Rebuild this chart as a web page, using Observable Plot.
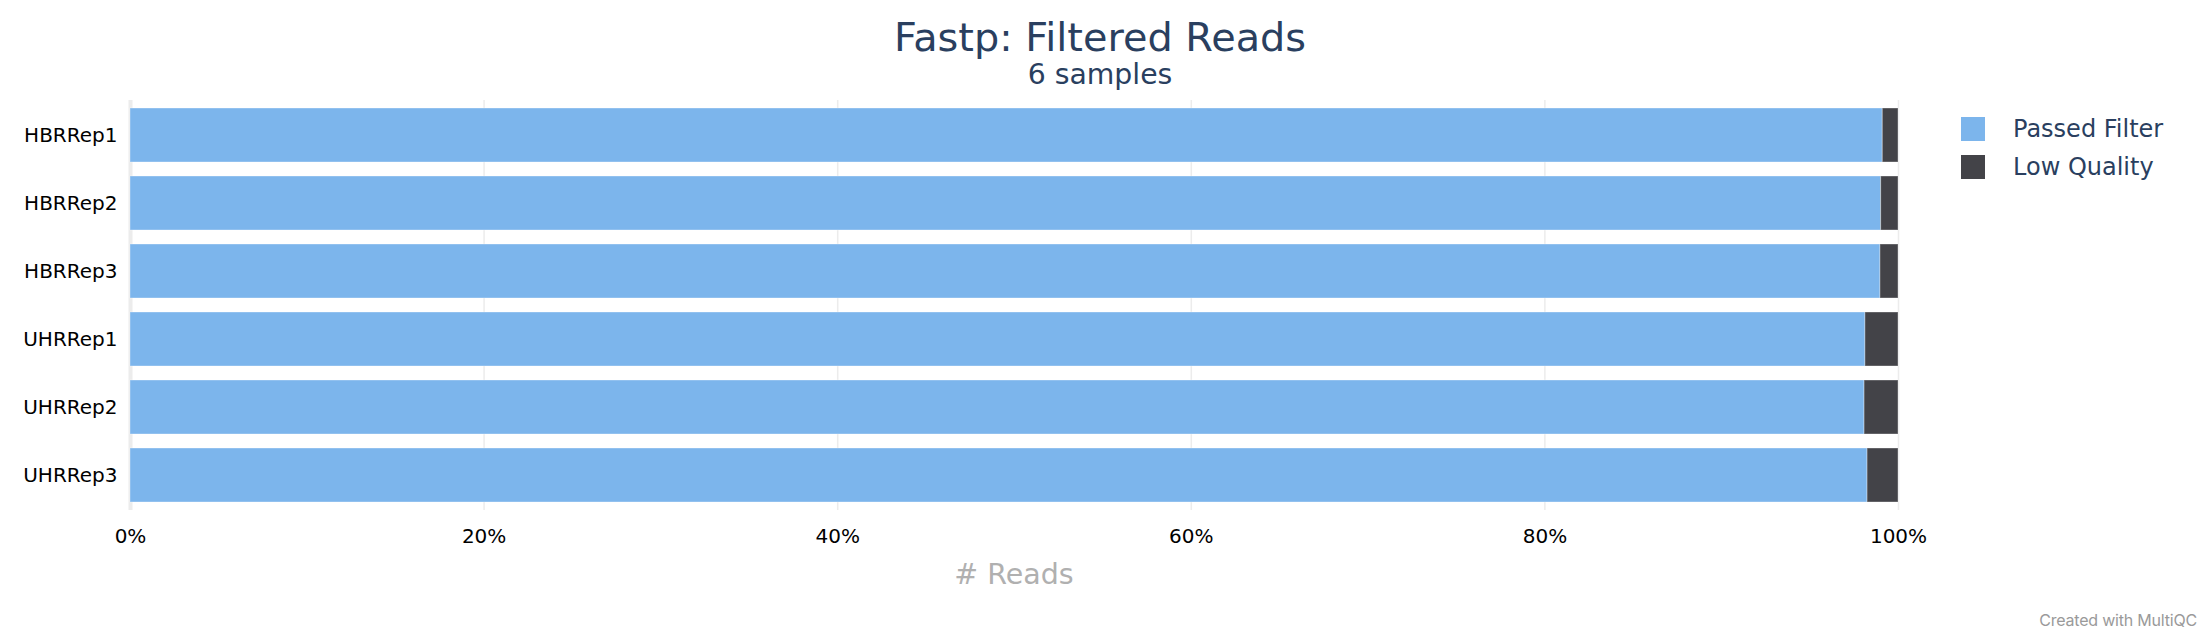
<!DOCTYPE html>
<html>
<head>
<meta charset="utf-8">
<script src="https://cdn.jsdelivr.net/npm/d3@7"></script>
<script src="https://cdn.jsdelivr.net/npm/@observablehq/plot@0.6"></script>
<style>
  html, body { margin: 0; padding: 0; background: #fff; }
  #wrap { position: relative; width: 2200px; height: 640px; font-family: "DejaVu Sans", sans-serif; overflow: hidden; }
  .abs { position: absolute; white-space: nowrap; }
  #title { left: 1100px; top: 14px; transform: translateX(-50%); font-size: 39.8px; color: #2a3f5f; line-height: 46px; }
  #subtitle { left: 1100px; top: 58px; transform: translateX(-50%); font-size: 28.3px; color: #2a3f5f; line-height: 34px; }
  #xlabel { left: 1014px; top: 555px; transform: translateX(-50%); font-size: 28.5px; color: #b0b0b0; line-height: 40px; }
  #credit { right: 3px; top: 610px; font-family: Inter, sans-serif; font-size: 16px; color: #9a9a9a; letter-spacing: -0.2px; line-height: 20px; }
  .leg { left: 1961px; display: flex; align-items: center; font-size: 24px; color: #2a3f5f; }
  .sw { width: 24px; height: 24px; margin-right: 28px; }
  #plot { position: absolute; left: 0; top: 0; }
</style>
</head>
<body>
<div id="wrap">
  <div id="plot"></div>
  <div class="abs" id="title">Fastp: Filtered Reads</div>
  <div class="abs" id="subtitle">6 samples</div>
  <div class="abs" id="xlabel"># Reads</div>
  <div class="abs" id="credit">Created with MultiQC</div>
  <div id="legend"></div>
</div>
<script>
const samples = ["HBRRep1", "HBRRep2", "HBRRep3", "UHRRep1", "UHRRep2", "UHRRep3"];
const seriesNames = ["Passed Filter", "Low Quality"];
const seriesColors = ["#7cb5ec", "#434348"];
const passedFilter = [99.11, 99.02, 98.98, 98.13, 98.08, 98.25];
const lowQuality = [0.89, 0.98, 1.02, 1.87, 1.92, 1.75];
const xTicks = [0, 20, 40, 60, 80, 100];

const rows = [];
samples.forEach((s, i) => {
  rows.push({sample: s, series: seriesNames[0], value: passedFilter[i]});
  rows.push({sample: s, series: seriesNames[1], value: lowQuality[i]});
});

const chart = Plot.plot({
  width: 2200,
  height: 640,
  marginLeft: 130,
  marginRight: 302,
  marginTop: 100,
  marginBottom: 130,
  style: {fontFamily: "DejaVu Sans, sans-serif", fontSize: "20px", color: "#000", background: "transparent"},
  x: {domain: [0, 100]},
  y: {domain: samples, paddingInner: 0.2, paddingOuter: 0.08},
  color: {domain: seriesNames, range: seriesColors},
  marks: [
    Plot.ruleX(xTicks, {stroke: "#ececec", strokeWidth: 1.5}),
    Plot.ruleX([0], {stroke: "#ececec", strokeWidth: 4}),
    Plot.barX(rows, Plot.stackX({x: "value", y: "sample", fill: "series", order: seriesNames, stroke: "#ffffff", strokeOpacity: 0.35, strokeWidth: 1})),
    Plot.axisX({ticks: xTicks, tickFormat: d => d + "%", tickSize: 0, tickPadding: 18, label: null, fontSize: "20px"}),
    Plot.axisY({tickSize: 0, tickPadding: 13, label: null, fontSize: "20px"})
  ]
});
document.getElementById("plot").appendChild(chart);

const legend = document.getElementById("legend");
const legTops = [117, 155];
seriesNames.forEach((name, i) => {
  const d = document.createElement("div");
  d.className = "abs leg";
  d.style.top = legTops[i] + "px";
  d.style.height = "24px";
  const sw = document.createElement("div");
  sw.className = "sw";
  sw.style.background = seriesColors[i];
  const t = document.createElement("span");
  t.textContent = name;
  d.appendChild(sw);
  d.appendChild(t);
  legend.appendChild(d);
});
</script>
</body>
</html>
